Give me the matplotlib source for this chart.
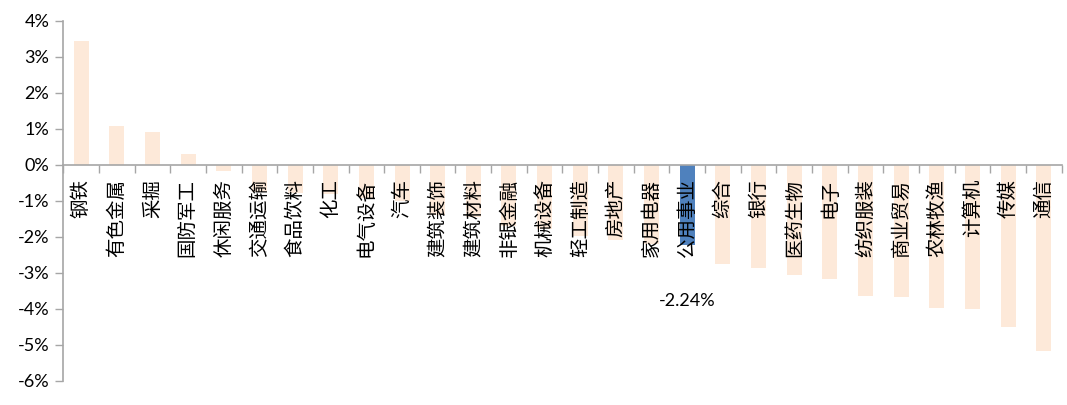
import matplotlib
matplotlib.use("Agg")
import matplotlib.pyplot as plt
from matplotlib.ticker import FuncFormatter

# industry returns, % (sorted high -> low)
industries = ["钢铁", "有色金属", "采掘", "国防军工", "休闲服务", "交通运输", "食品饮料",
              "化工", "电气设备", "汽车", "建筑装饰", "建筑材料", "非银金融", "机械设备",
              "轻工制造", "房地产", "家用电器", "公用事业", "综合", "银行", "医药生物",
              "电子", "纺织服装", "商业贸易", "农林牧渔", "计算机", "传媒", "通信"]
returns = [3.43, 1.07, 0.91, 0.30, -0.17, -0.76, -0.78,
           -0.80, -0.92, -1.00, -1.40, -1.46, -1.69, -1.77,
           -1.97, -2.10, -2.20, -2.24, -2.75, -2.86, -3.07,
           -3.18, -3.65, -3.66, -3.98, -4.01, -4.51, -5.17]
highlight = "公用事业"
y_ticks = [4, 3, 2, 1, 0, -1, -2, -3, -4, -5, -6]

PEACH = "#FDE9D9"
BLUE = "#4F81BD"
AXIS_GREY = "#A6A6A6"

fig = plt.figure(figsize=(10.67, 4.05), dpi=100)
ax = fig.add_axes([0.0593, 0.0593, 0.9357, 0.8897])

x = list(range(len(industries)))
colors = [BLUE if name == highlight else PEACH for name in industries]
ax.bar(x, returns, width=0.42, color=colors, zorder=1)

ax.set_xlim(-0.5, len(industries) - 0.5)
ax.set_ylim(-6, 4)

# y axis
ax.set_yticks(y_ticks)
ax.yaxis.set_major_formatter(FuncFormatter(lambda v, _: f"{v:.0f}%"))
ax.tick_params(axis="y", direction="out", length=6, width=1, color=AXIS_GREY,
               labelsize=13, pad=4)
for lab in ax.get_yticklabels():
    lab.set_family(["Lato", "DejaVu Sans"])

# x axis sits on the zero line, ticks at category boundaries
ax.spines["top"].set_visible(False)
ax.spines["right"].set_visible(False)
ax.spines["left"].set_color(AXIS_GREY)
ax.spines["bottom"].set_color(AXIS_GREY)
ax.spines["bottom"].set_position(("data", 0))
ax.spines["left"].set_linewidth(1.2)
ax.spines["bottom"].set_linewidth(1.2)
ax.set_xticks([i - 0.5 for i in range(len(industries) + 1)])
ax.set_xticklabels([])
ax.tick_params(axis="x", direction="out", length=6, width=1, color=AXIS_GREY)

# vertical category labels just below the zero line
for i, name in enumerate(industries):
    ax.annotate(name, xy=(i, 0), xytext=(0, -10), textcoords="offset points",
                rotation=90, ha="center", va="top", fontsize=14,
                family=["Noto Sans CJK SC", "DejaVu Sans"], color="#000000", zorder=3)

# data label for the highlighted bar
hi = industries.index(highlight)
ax.annotate(f"{returns[hi]:.2f}%", xy=(hi, returns[hi]), xytext=(0, -40),
            textcoords="offset points", ha="center", va="center", fontsize=13,
            family=["Lato", "DejaVu Sans"], color="#000000", zorder=3)

fig.savefig("out.png", dpi=100)
